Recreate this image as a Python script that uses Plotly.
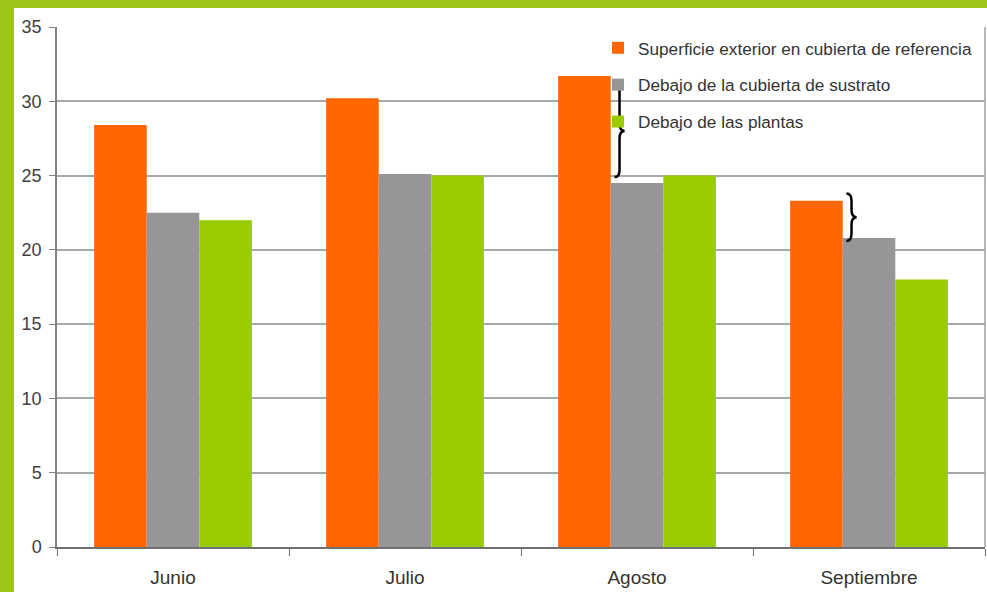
import plotly.graph_objects as go

meses = ["Junio", "Julio", "Agosto", "Septiembre"]
series_names = ["Superficie exterior en cubierta de referencia",
                "Debajo de la cubierta de sustrato",
                "Debajo de las plantas"]
superficie = [28.4, 30.2, 31.7, 23.3]
sustrato = [22.5, 25.1, 24.5, 20.8]
plantas = [22.0, 25.0, 25.0, 18.0]
colores = ["#ff6600", "#969696", "#99cc00"]
y_ticks = [0, 5, 10, 15, 20, 25, 30, 35]
# braces: (category index, upper value, lower value)
llaves = [(2, 31.1, 24.9), (3, 23.8, 20.6)]

W, H = 987, 592
ml, mr, mt, mb = 57, 2, 27, 45
pw, ph = W - ml - mr, H - mt - mb
bargap = 0.32

fig = go.Figure()
for i, (name, vals) in enumerate(zip(series_names, [superficie, sustrato, plantas])):
    fig.add_trace(go.Bar(x=meses, y=vals, name=name, marker_color=colores[i],
                         marker_line_width=0, legendgroup=f"g{i}"))

shapes = []
def px_to_paper_x(px):
    return (px - ml) / pw
def px_to_paper_y(py):
    return (H - mb - py) / ph
# green frame bands
shapes.append(dict(type="rect", xref="paper", yref="paper", layer="above",
                   x0=px_to_paper_x(0), x1=px_to_paper_x(W), y0=px_to_paper_y(8), y1=px_to_paper_y(0),
                   fillcolor="#9dc41a", line_width=0))
shapes.append(dict(type="rect", xref="paper", yref="paper", layer="above",
                   x0=px_to_paper_x(0), x1=px_to_paper_x(14), y0=px_to_paper_y(H), y1=px_to_paper_y(0),
                   fillcolor="#9dc41a", line_width=0))
# right border of plot area
shapes.append(dict(type="line", xref="paper", yref="paper", x0=1, x1=1, y0=0, y1=1,
                   line=dict(color="#a0a0a0", width=1.5)))

# braces
ncat = len(meses)
bw = (1 - bargap) / 3
for ci, ytop, ybot in llaves:
    center = (ci + 0.5) / ncat
    xe = center - (bw / 2) / ncat + 0.004
    d = 0.0055
    ym = (ytop + ybot) / 2
    h = 0.5
    path = (f"M {xe},{ytop} Q {xe+d},{ytop} {xe+d},{ytop-h} "
            f"L {xe+d},{ym+h} Q {xe+d},{ym} {xe+2*d},{ym} "
            f"Q {xe+d},{ym} {xe+d},{ym-h} "
            f"L {xe+d},{ybot+h} Q {xe+d},{ybot} {xe},{ybot}")
    shapes.append(dict(type="path", xref="paper", yref="y", path=path,
                       line=dict(color="black", width=2.5), layer="above"))

fig.update_layout(
    width=W, height=H,
    margin=dict(l=ml, r=mr, t=mt, b=mb),
    paper_bgcolor="white", plot_bgcolor="white",
    bargap=bargap, bargroupgap=0,
    font=dict(family="Liberation Sans, Arial, sans-serif", color="#404040", size=15),
    showlegend=True,
    legend=dict(x=0.583, y=0.994, xanchor="left", yanchor="top",
                bgcolor="rgba(255,255,255,0)", font=dict(size=17.2, color="#333333"),
                traceorder="grouped", tracegroupgap=11.5, itemwidth=30),
    shapes=shapes,
    xaxis=dict(showline=True, linecolor="#707070", linewidth=2, ticks="outside",
               tickson="boundaries", ticklen=7, tickcolor="#707070",
               ticklabelstandoff=12,
               tickfont=dict(size=19, color="#333333"), showgrid=False),
    yaxis=dict(range=[0, 35], tickvals=y_ticks, showline=True, linecolor="#808080",
               linewidth=1.5, ticks="outside", ticklen=6, tickcolor="#808080",
               ticklabelstandoff=4,
               showgrid=True, gridcolor="#a8a8a8", gridwidth=1.5,
               tickfont=dict(size=18, color="#404040"), zeroline=False),
)

fig.write_html("out.html", config={"displayModeBar": False},
               post_script="document.body.style.margin='0';")
